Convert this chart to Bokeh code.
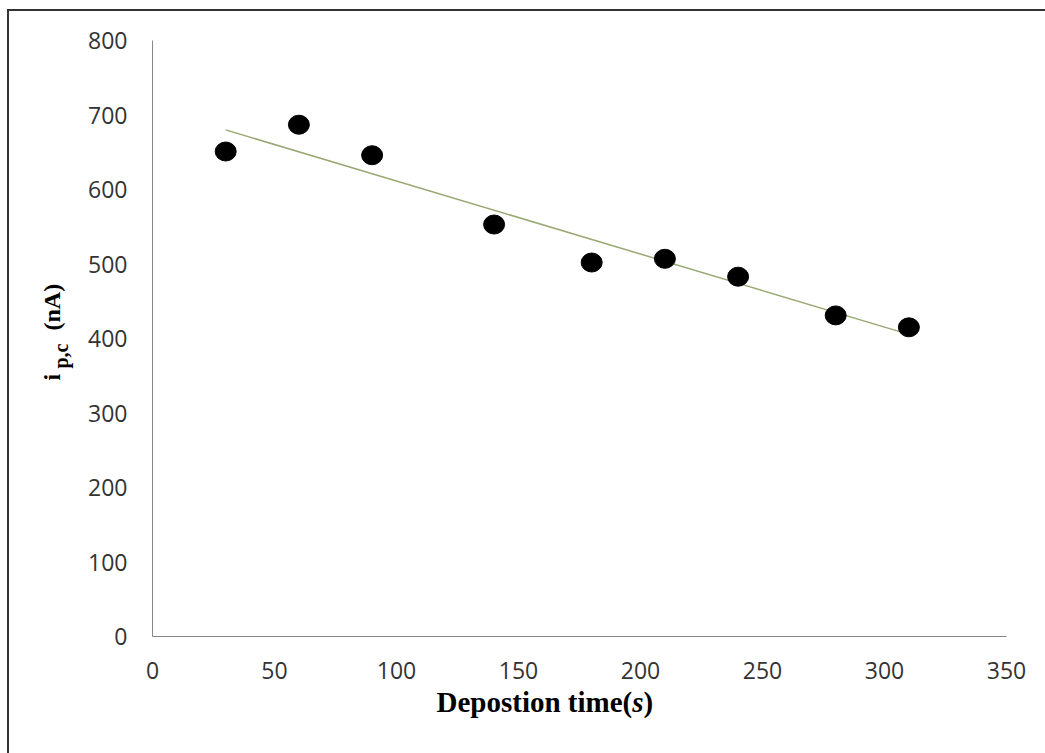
import numpy as np
from bokeh.plotting import figure
from bokeh.models import Range1d, FixedTicker, Label
from bokeh.embed import file_html
from bokeh.resources import INLINE

# Data
times = [30, 60, 90, 140, 180, 210, 240, 280, 310]
current = [651, 687, 646, 553, 502, 507, 483, 431, 415]
x_ticks = [0, 50, 100, 150, 200, 250, 300, 350]
y_ticks = [0, 100, 200, 300, 400, 500, 600, 700, 800]

p = figure(
    frame_width=854, frame_height=596,
    min_border_left=143, min_border_top=29, min_border_right=39, min_border_bottom=117,
    x_range=Range1d(0, 350), y_range=Range1d(0, 800),
    output_backend="svg", toolbar_location=None,
    margin=(9, 0, 0, 7),
    styles={"border-left": "2px solid #333333", "border-top": "2px solid #333333"},
)
p.outline_line_color = None
p.xgrid.visible = False
p.ygrid.visible = False
p.background_fill_color = "white"
p.border_fill_color = "white"

for ax, ticks in ((p.xaxis[0], x_ticks), (p.yaxis[0], y_ticks)):
    ax.ticker = FixedTicker(ticks=ticks)
    ax.axis_line_color = "#868686"
    ax.axis_line_width = 1
    ax.major_tick_line_color = None
    ax.minor_tick_line_color = None
    ax.major_tick_out = 0
    ax.major_tick_in = 0
    ax.major_label_text_font = "Open Sans"
    ax.major_label_text_font_size = "23px"
    ax.major_label_text_color = "#333333"
p.xaxis[0].major_label_standoff = 25
p.yaxis[0].major_label_standoff = 25

# Linear trend line fitted to the data
k, b = np.polyfit(times, current, 1)
tx = [min(times), max(times)]
ty = [k * t + b for t in tx]
p.line(tx, ty, line_color="#98a872", line_width=1.5)

# Data points (slightly elliptical like the reference)
p.ellipse(x=times, y=current, width=21, height=19,
          width_units="screen", height_units="screen",
          fill_color="black", line_color="black")

# Axis titles built from pieces (subscript / italic), canvas units (y from top)
serif = "Liberation Serif"
def lab(text, x, y, size, place, angle=0.0, style="bold"):
    p.add_layout(Label(x=x, y=y, x_units="canvas", y_units="canvas", text=text,
                       text_font=serif, text_font_size=size, text_font_style=style,
                       text_color="black", angle=angle, text_align="left",
                       text_baseline="alphabetic"), place)

fs = 29
x0 = 425
ty0 = 688
w1 = 6.749 * fs
lab("Depostion time(", x0, ty0, f"{fs}px", "below")
lab("s", x0 + w1, ty0, f"{fs}px", "below", style="bold italic")
lab(")", x0 + w1 + 0.389 * fs, ty0, f"{fs}px", "below")

lab("i", 40, 367, "24px", "left", angle=np.pi / 2)
lab("p,c", 49, 355, "20px", "left", angle=np.pi / 2)
lab("(nA)", 40, 317, "24px", "left", angle=np.pi / 2)

open("out.html", "w").write(file_html(p, INLINE))
